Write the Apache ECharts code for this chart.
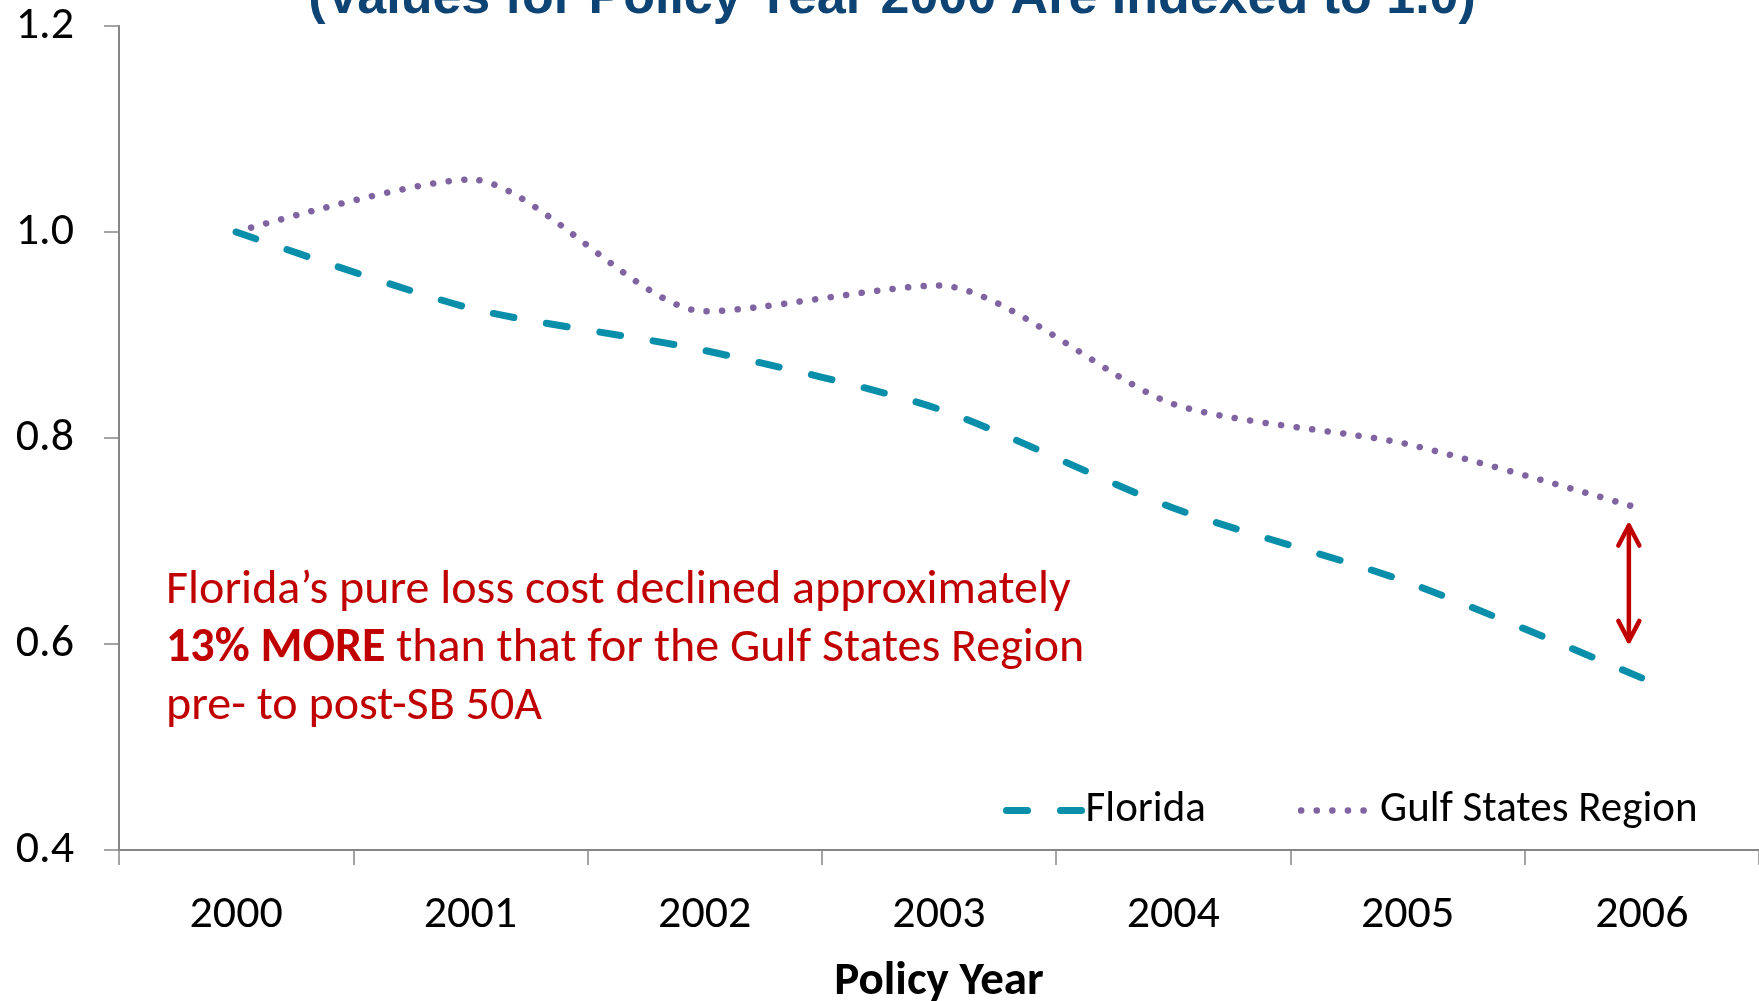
<!DOCTYPE html>
<html>
<head>
<meta charset="utf-8">
<title>Florida vs Gulf States Region</title>
<script src="https://cdn.jsdelivr.net/npm/echarts@6/dist/echarts.min.js"></script>
<style>
  html, body { margin: 0; padding: 0; background: #fff; }
  #mainChart { width: 1759px; height: 1001px; }
</style>
</head>
<body>
<div id="mainChart"></div>
<script>
// policy years
var years = ['2000', '2001', '2002', '2003', '2004', '2005', '2006'];
// indexed pure loss cost (2000 = 1.0)
var floridaData = [1.0, 0.926, 0.885, 0.828, 0.732, 0.660, 0.567];
var gulfData = [1.0, 1.051, 0.923, 0.948, 0.833, 0.794, 0.731];
// y axis
var yMin = 0.4, yMax = 1.2, yStep = 0.2;
// arrow ends (value) at the 2006 point
var arrowTop = 0.715, arrowBottom = 0.603;

var baseFont = 'Carlito, Lato, "Open Sans", sans-serif';
var noteColor = '#C00000';
var flColor = '#0A8FAA';
var gulfColor = '#8064A2';
var flDash = [21, 33];
var gulfDot = [0.1, 15.5];

var chart = echarts.init(document.getElementById('mainChart'));

var option = {
    animation: false,
    backgroundColor: '#ffffff',
    textStyle: { fontFamily: baseFont },
    grid: {
        left: 119,
        right: 0,
        top: 26,
        bottom: 151,
        containLabel: false,
        outerBoundsMode: 'none'   // keep the plot where it is, the axis name sits near the bottom edge
    },
    legend: {
        left: 998,
        top: 784,
        itemWidth: 78,
        itemHeight: 14,
        itemGap: 92,
        textStyle: { fontFamily: baseFont, fontSize: 43, color: '#000', padding: [0, 0, 0, -4] },
        data: [
            { name: 'Florida', itemStyle: { opacity: 0 }, lineStyle: { color: flColor, width: 7, type: flDash, cap: 'round' } },
            { name: 'Gulf States Region', itemStyle: { opacity: 0 }, lineStyle: { color: gulfColor, width: 6.5, type: gulfDot, cap: 'round' } }
        ]
    },
    xAxis: {
        type: 'category',
        data: years,
        boundaryGap: true,
        name: 'Policy Year',
        nameLocation: 'middle',
        nameGap: 109,
        nameTextStyle: { fontFamily: baseFont, fontSize: 47, fontWeight: 'bold', color: '#000' },
        axisLine: { lineStyle: { color: '#868686', width: 2 } },
        axisTick: { show: true, length: 15, alignWithLabel: false, lineStyle: { color: '#868686', width: 1.5 } },
        axisLabel: { fontFamily: baseFont, fontSize: 46, color: '#000', margin: 42 },
        splitLine: { show: false }
    },
    yAxis: {
        type: 'value',
        min: yMin,
        max: yMax,
        interval: yStep,
        axisLine: { show: true, lineStyle: { color: '#868686', width: 2 } },
        axisTick: { show: true, length: 15, lineStyle: { color: '#868686', width: 1.5 } },
        axisLabel: {
            fontFamily: baseFont, fontSize: 46, color: '#000', margin: 45,
            formatter: function (v) { return v.toFixed(1); }
        },
        splitLine: { show: false }
    },
    series: [
        {
            name: 'Florida',
            type: 'line',
            data: floridaData,
            smooth: 0.25,
            symbol: 'none',
            color: flColor,
            lineStyle: { color: flColor, width: 7, type: flDash, cap: 'round' },
            z: 3
        },
        {
            name: 'Gulf States Region',
            type: 'line',
            data: gulfData,
            smooth: 0.25,
            symbol: 'none',
            color: gulfColor,
            lineStyle: { color: gulfColor, width: 6.5, type: gulfDot, cap: 'round' },
            z: 2
        }
    ]
};

chart.setOption(option);

// title, note and the double headed arrow (needs pixel positions, so after setOption)
function buildGraphics() {
    var top = chart.convertToPixel({ gridIndex: 0 }, ['2006', arrowTop]);
    var bot = chart.convertToPixel({ gridIndex: 0 }, ['2006', arrowBottom]);
    var x = top[0] - 13;
    var head = 20, half = 10.5;
    var st = { stroke: noteColor, lineWidth: 4.5, lineCap: 'round', lineJoin: 'round', fill: null };
    return [
        {
            id: 'title',
            type: 'text',
            x: 892,
            y: -1,
            style: {
                text: '(Values for Policy Year 2000 Are Indexed to 1.0)',
                font: 'bold 52px "Liberation Sans", Arial, sans-serif',
                fill: '#0D4474',
                align: 'center',
                verticalAlign: 'middle'
            }
        },
        {
            id: 'note',
            type: 'text',
            x: 166,
            y: 562,
            style: {
                text: 'Florida\u2019s pure loss cost declined approximately\n{b|13% MORE} than that for the Gulf States Region\npre- to post-SB 50A',
                fontFamily: baseFont,
                fontSize: 48,
                lineHeight: 58,
                fill: noteColor,
                verticalAlign: 'top',
                rich: {
                    b: { fontFamily: baseFont, fontSize: 48, fontWeight: 'bold', fill: noteColor, lineHeight: 58 }
                }
            }
        },
        {
            id: 'arrow',
            type: 'group',
            children: [
                { type: 'line', shape: { x1: x, y1: top[1], x2: x, y2: bot[1] }, style: st },
                { type: 'polyline', shape: { points: [[x - half, top[1] + head], [x, top[1]], [x + half, top[1] + head]] }, style: st },
                { type: 'polyline', shape: { points: [[x - half, bot[1] - head], [x, bot[1]], [x + half, bot[1] - head]] }, style: st }
            ]
        }
    ];
}
chart.setOption({ graphic: buildGraphics() });

window.onresize = function () {
    chart.resize();
    chart.setOption({ graphic: buildGraphics() });
};
</script>
</body>
</html>
